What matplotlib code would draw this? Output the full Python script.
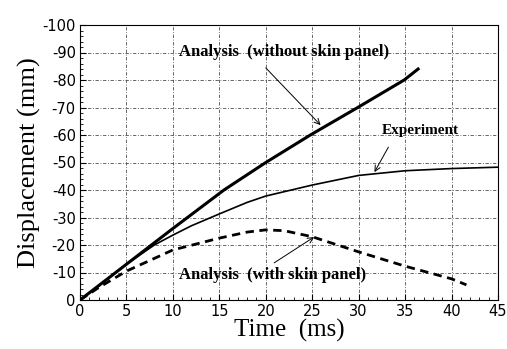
import numpy as np
import matplotlib
matplotlib.use('Agg')
import matplotlib.pyplot as plt
from matplotlib.ticker import MultipleLocator

plt.rcParams['axes.unicode_minus'] = False

# time (ms) and displacement (mm)
t_noskin = [0, 5, 10, 15.5, 20, 24.8, 29.9, 34.9, 36.4]
d_noskin = [0, -13, -26, -40, -50, -60, -70, -80, -84]

t_exp = [0, 2, 5, 8, 10, 12, 15, 18, 20, 25, 30, 35, 40, 45]
d_exp = [0, -5, -13, -20, -23.6, -27, -31.3, -35.5, -37.8, -41.8, -45.3, -47, -47.8, -48.3]

t_skin = [0, 2, 5, 10, 15, 18, 20, 22, 25, 30, 35, 40, 41.6]
d_skin = [0, -4.5, -10.5, -18.2, -22.5, -24.7, -25.5, -25.2, -23, -17.5, -12.3, -7.7, -5.5]

xticks = [0, 5, 10, 15, 20, 25, 30, 35, 40, 45]
yticks = [0, -10, -20, -30, -40, -50, -60, -70, -80, -90, -100]

serif = ['Liberation Serif', 'DejaVu Serif']

fig = plt.figure(figsize=(5.07, 3.49), dpi=100)
ax = fig.add_axes([80/507, 49/349, 418/507, 275/349])

ax.plot(t_noskin, d_noskin, c='k', lw=2.2)
ax.plot(t_exp, d_exp, c='k', lw=1.2)
ax.plot(t_skin, d_skin, c='k', lw=2.0, ls=(0, (3, 2)))

ax.set_xlim(0, 45)
ax.set_ylim(0, -100)
ax.set_xticks(xticks)
ax.set_yticks(yticks)
ax.xaxis.set_minor_locator(MultipleLocator(1))
ax.yaxis.set_minor_locator(MultipleLocator(2))
ax.tick_params(which='both', direction='in', top=False, right=False)
ax.tick_params(which='major', length=4, labelsize=10.5, pad=3)
ax.tick_params(which='minor', length=2.5)
for lab in ax.get_xticklabels() + ax.get_yticklabels():
    lab.set_family('DejaVu Sans')

ax.grid(True, which='major', c='0.3', lw=0.6, ls=(0, (4, 2, 1, 2)))

ax.set_xlabel('Time  (ms)', fontsize=18, family=serif, labelpad=0)
ax.set_ylabel('Displacement (mm)', fontsize=19, family=serif, labelpad=1)

arr = dict(arrowstyle='->', lw=0.7, color='k', shrinkA=0, shrinkB=0)
txt = dict(family=serif, weight='bold', va='center')
ax.text(10.7, -90.2, 'Analysis  (without skin panel)', fontsize=12, **txt)
ax.annotate('', xy=(25.9, -63.6), xytext=(20.0, -84.4), arrowprops=arr)
ax.text(32.5, -61.5, 'Experiment', fontsize=11, **txt)
ax.annotate('', xy=(31.7, -46.5), xytext=(33.2, -55.6), arrowprops=arr)
ax.text(10.7, -9.1, 'Analysis  (with skin panel)', fontsize=12, **txt)
ax.annotate('', xy=(25.2, -22.9), xytext=(20.9, -13.5), arrowprops=arr)

fig.savefig('out.png', dpi=100)
